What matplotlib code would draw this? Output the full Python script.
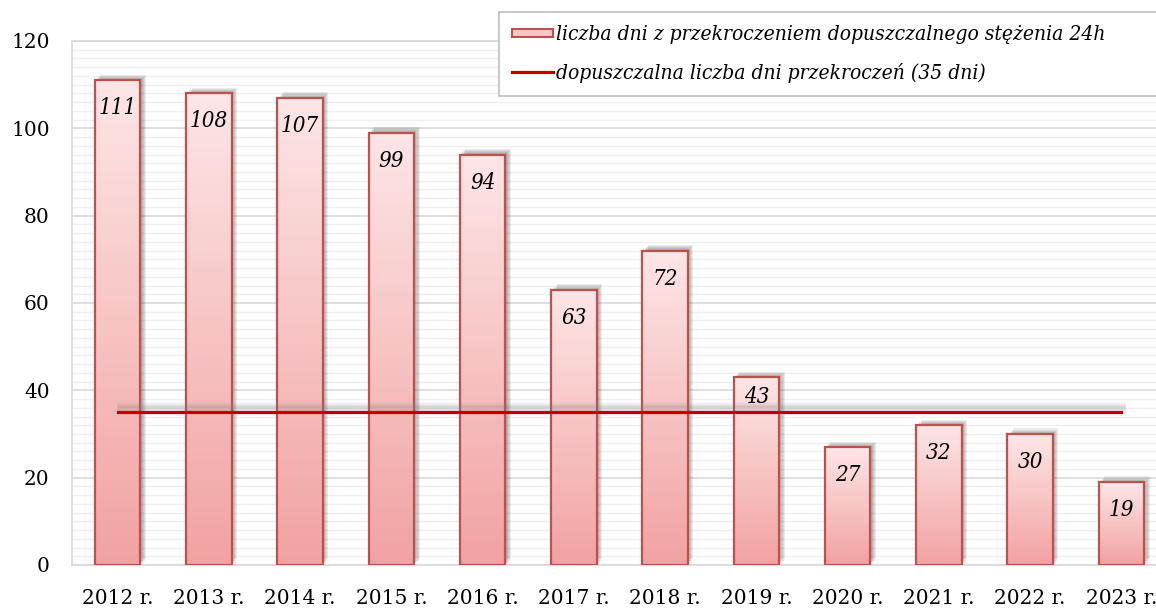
import numpy as np
import matplotlib
matplotlib.use("Agg")
import matplotlib.pyplot as plt
import matplotlib.patheffects as pe
from matplotlib.colors import LinearSegmentedColormap
from matplotlib.patches import Rectangle
from matplotlib.legend_handler import HandlerPatch

lata = ["2012 r.", "2013 r.", "2014 r.", "2015 r.", "2016 r.", "2017 r.",
        "2018 r.", "2019 r.", "2020 r.", "2021 r.", "2022 r.", "2023 r."]
dni_przekroczen = [111, 108, 107, 99, 94, 63, 72, 43, 27, 32, 30, 19]
limit_dni = [35] * len(lata)

etykieta_slupki = "liczba dni z przekroczeniem dopuszczalnego stężenia 24h"
etykieta_linia = "dopuszczalna liczba dni przekroczeń (35 dni)"

plt.rcParams["font.family"] = ["DejaVu Serif"]

kolor_krawedzi = "#C0504D"
kolor_linii = "#C00000"
gradient = LinearSegmentedColormap.from_list("roz", ["#F2A2A2", "#FDE6E6"])

fig = plt.figure(figsize=(11.56, 6.08), dpi=100)
ax = fig.add_axes([72 / 1156, 1 - 565 / 608, 1095 / 1156, 524 / 608])

x = np.arange(len(lata))
szer = 0.5

# cien + tlo slupkow
cienie = [pe.SimplePatchShadow(offset=(d, d), shadow_rgbFace="#404040", alpha=0.1)
          for d in (0.8, 1.6, 2.4, 3.2, 4.0)]
slupki = ax.bar(x, dni_przekroczen, width=szer, color="white", edgecolor="none",
                zorder=2, path_effects=cienie + [pe.Normal()])

# gradient w kazdym slupku
grad = np.linspace(0, 1, 256).reshape(-1, 1)
for s in slupki:
    x0, w, h = s.get_x(), s.get_width(), s.get_height()
    im = ax.imshow(grad, extent=[x0, x0 + w, 0, h], origin="lower",
                   cmap=gradient, aspect="auto", zorder=2.5)
    im.set_clip_path(s)

ax.bar(x, dni_przekroczen, width=szer, fill=False, edgecolor=kolor_krawedzi,
       linewidth=1.6, zorder=3)

cien_linii = [pe.SimpleLineShadow(offset=(1.5, d), shadow_color="gray", alpha=0.09,
                                  linewidth=4)
              for d in (2, 3, 4, 5)]
ax.plot(x, limit_dni, color=kolor_linii, linewidth=2.3, zorder=4,
        path_effects=cien_linii + [pe.Normal()])

for i, (xi, v) in enumerate(zip(x, dni_przekroczen)):
    dy = -20 if i == 7 else -28
    ax.annotate(str(v), (xi, v), xytext=(0, dy), textcoords="offset pixels",
                ha="center", va="center", fontsize=16, style="italic",
                fontstretch="condensed", zorder=5)

ax.set_xlim(-0.5, len(lata) - 0.5)
ax.set_ylim(0, 120)
ax.set_yticks(range(0, 121, 20))
ax.set_yticks(range(0, 121, 2), minor=True)
ax.set_xticks(x)
ax.set_xticklabels(lata)
ax.tick_params(axis="both", which="both", length=0, labelsize=14.5)
ax.tick_params(axis="y", pad=16)
ax.tick_params(axis="x", pad=17)
ax.grid(axis="y", which="major", color="#D9D9D9", linewidth=1.2, zorder=0)
ax.grid(axis="y", which="minor", color="#EFEFEF", linewidth=1.0, zorder=0)
ax.set_axisbelow(True)
for k in ["left", "top", "bottom", "right"]:
    ax.spines[k].set_color("#D9D9D9")
    ax.spines[k].set_linewidth(1.2)


class GradHandler(HandlerPatch):
    def create_artists(self, legend, orig_handle, xdescent, ydescent, width,
                       height, fontsize, trans):
        r = Rectangle((-xdescent, -ydescent + height * 0.15), width, height * 0.6,
                      facecolor="#F7C6C6", edgecolor=kolor_krawedzi, linewidth=1.5,
                      transform=trans)
        return [r]


uchwyt = Rectangle((0, 0), 1, 1)
linia, = ax.plot([], [], color=kolor_linii, linewidth=2.3)
gora = 1 - 12 / 608
leg = fig.legend([uchwyt, linia], [etykieta_slupki, etykieta_linia],
                 handler_map={Rectangle: GradHandler()},
                 loc="upper left", mode="expand",
                 bbox_to_anchor=(499 / 1156, 0.5, 700 / 1156, gora - 0.5),
                 prop={"size": 15, "style": "italic", "stretch": "condensed"},
                 frameon=True, fancybox=False, edgecolor="#BFBFBF", framealpha=1,
                 handlelength=2.0, handletextpad=0.15, labelspacing=0.95,
                 borderpad=0.6, borderaxespad=0)
leg.get_frame().set_linewidth(1.2)

fig.savefig("out.png", dpi=100)
